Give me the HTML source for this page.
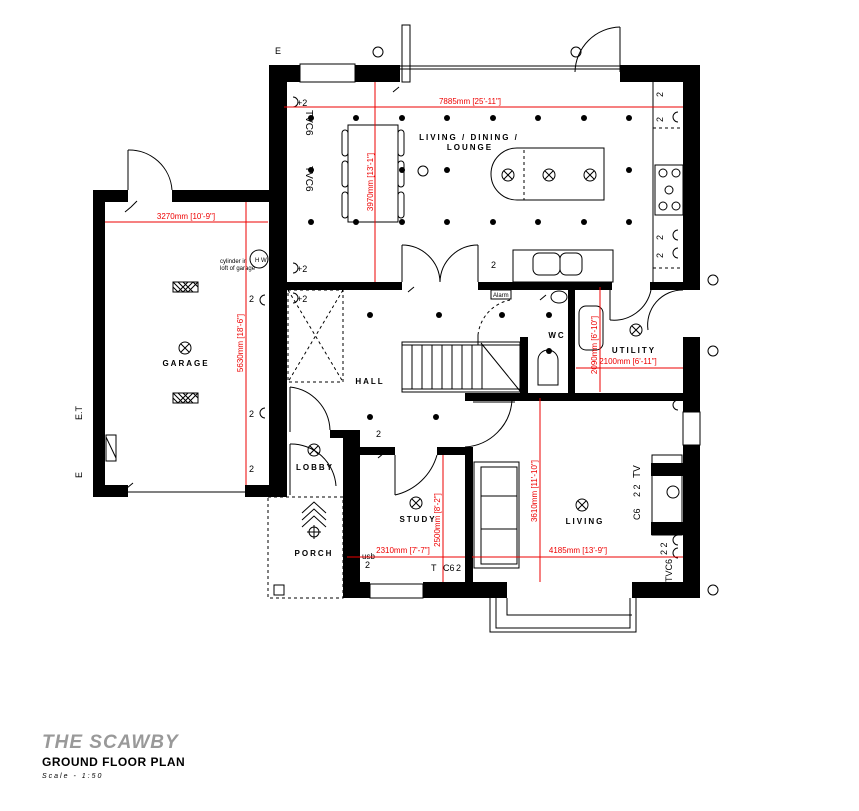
<!DOCTYPE html>
<html><head><meta charset="utf-8"><style>
html,body{margin:0;padding:0;background:#fff;}
svg{display:block;font-family:"Liberation Sans",sans-serif;}
</style></head><body>
<svg width="859" height="811" viewBox="0 0 859 811" xmlns="http://www.w3.org/2000/svg">
<g fill="none" stroke="#000" stroke-width="1">
 <line x1="400" y1="66" x2="620" y2="66"/><line x1="400" y1="69" x2="620" y2="69"/>
 <rect x="402" y="25" width="8" height="57"/>
 <path d="M620 27 A46 46 0 0 0 575 72"/><line x1="620" y1="27" x2="620" y2="72"/>
 <path d="M128 150 A43 43 0 0 1 172 190"/><line x1="128" y1="150" x2="128" y2="190"/>
 <line x1="128" y1="492" x2="245" y2="492"/>
 <line x1="653" y1="82" x2="653" y2="282"/>
 <line x1="653" y1="128" x2="683" y2="128" stroke-dasharray="3,3"/>
 <line x1="653" y1="268" x2="683" y2="268" stroke-dasharray="3,3"/>
 <rect x="655" y="165" width="28" height="50"/>
 <circle cx="663" cy="173" r="4"/><circle cx="676" cy="173" r="4"/><circle cx="669" cy="190" r="4"/><circle cx="663" cy="206" r="4"/><circle cx="676" cy="206" r="4"/>
 <path d="M517 148 H604 V200 H517 A26 26 0 0 1 517 148 Z"/>
 <line x1="524" y1="150" x2="524" y2="200" stroke-dasharray="3,3"/>
 <rect x="348" y="125" width="50" height="97"/>
 <g><rect x="342" y="130" width="6" height="26" rx="3"/><rect x="342" y="161" width="6" height="26" rx="3"/><rect x="342" y="192" width="6" height="26" rx="3"/>
 <rect x="398" y="130" width="6" height="26" rx="3"/><rect x="398" y="161" width="6" height="26" rx="3"/><rect x="398" y="192" width="6" height="26" rx="3"/></g>
 <line x1="402" y1="245" x2="402" y2="282"/><line x1="478" y1="245" x2="478" y2="282"/>
 <path d="M402 245 A38 38 0 0 1 440 282"/><path d="M478 245 A38 38 0 0 0 440 282"/>
 <rect x="513" y="250" width="100" height="32"/>
 <rect x="533" y="253" width="27" height="22" rx="6"/><rect x="560" y="253" width="22" height="22" rx="6"/>
 <rect x="402" y="342" width="118" height="50"/>
 <line x1="402" y1="345" x2="520" y2="345"/><line x1="402" y1="389" x2="520" y2="389"/>
 <g><line x1="412" y1="345" x2="412" y2="389"/><line x1="422" y1="345" x2="422" y2="389"/><line x1="432" y1="345" x2="432" y2="389"/><line x1="442" y1="345" x2="442" y2="389"/><line x1="452" y1="345" x2="452" y2="389"/><line x1="462" y1="345" x2="462" y2="389"/><line x1="472" y1="345" x2="472" y2="389"/><line x1="482" y1="345" x2="482" y2="389"/></g>
 <line x1="481" y1="343" x2="520" y2="391"/>
 <rect x="288" y="290" width="55" height="92" stroke-dasharray="3,3"/>
 <line x1="288" y1="290" x2="343" y2="382" stroke-dasharray="3,3"/><line x1="343" y1="290" x2="288" y2="382" stroke-dasharray="3,3"/>
 <path d="M290 387 A45 45 0 0 1 330 430"/><line x1="290" y1="387" x2="290" y2="432"/>
 <path d="M290 444 A45 45 0 0 1 336 486"/><line x1="290" y1="444" x2="290" y2="495"/>
 <path d="M395 495 A57 57 0 0 0 437 455"/><line x1="395" y1="455" x2="395" y2="495"/>
 <path d="M512 400 A50 50 0 0 1 465 447"/><line x1="473" y1="402" x2="515" y2="402"/>
 <path d="M478 335 A40 40 0 0 1 510 300" stroke-dasharray="3,3"/><line x1="478" y1="335" x2="478" y2="345"/>
 <path d="M610 320 A38 38 0 0 0 651 290"/><line x1="610" y1="288" x2="610" y2="320"/>
 <path d="M683 290 A35 35 0 0 0 648 330"/>
 <path d="M538 360 A10 10 0 0 1 558 360 V385 H538 Z"/>
 <ellipse cx="559" cy="297" rx="8" ry="6"/>
 <rect x="579" y="306" width="24" height="44" rx="7"/>
 <rect x="474" y="462" width="45" height="106"/>
 <rect x="481" y="467" width="36" height="97"/>
 <line x1="481" y1="496" x2="517" y2="496"/><line x1="481" y1="529" x2="517" y2="529"/>
 <rect x="652" y="455" width="30" height="80"/>
 <circle cx="673" cy="492" r="6"/>
 <path d="M490 598 V632 H636 V598"/><path d="M496 598 V628 H630 V598"/><path d="M507 598 V615 H632"/>
 <rect x="300" y="64" width="55" height="18"/>
 <rect x="370" y="584" width="53" height="14"/>
 <rect x="683" y="412" width="17" height="33"/>
 <rect x="268" y="497" width="75" height="101" stroke-dasharray="3,3"/>
 <rect x="274" y="585" width="10" height="10"/>
 <path d="M302 513 L314 502 L326 513 M302 520 L314 509 L326 520 M302 527 L314 516 L326 527"/>
 <circle cx="314" cy="532" r="5"/><line x1="314" y1="525" x2="314" y2="539"/><line x1="307" y1="532" x2="321" y2="532"/>
 <rect x="173" y="282" width="25" height="10"/><rect x="173" y="393" width="25" height="10"/>
 <path d="M173 282 L183 292 L193 282 L198 287 M178 282 L188 292 L198 282 M173 287 L178 292 L188 282 M183 282 L193 292"/>
 <path d="M173 393 L183 403 L193 393 L198 398 M178 393 L188 403 L198 393 M173 398 L178 403 L188 393 M183 393 L193 403"/>
 <rect x="106" y="435" width="10" height="26"/><line x1="106" y1="437" x2="116" y2="458"/>
 <circle cx="259" cy="259" r="9"/>
</g>
<g fill="none" stroke="#000" stroke-width="1">
 <g id="lx">
 <circle cx="508" cy="175" r="6"/><circle cx="549" cy="175" r="6"/><circle cx="590" cy="175" r="6"/>
 <circle cx="185" cy="348" r="6"/><circle cx="314" cy="450" r="6"/><circle cx="416" cy="503" r="6"/><circle cx="582" cy="505" r="6"/><circle cx="636" cy="330" r="6"/>
 </g>
 <path d="M504 171 l8 8 m0 -8 l-8 8 M545 171 l8 8 m0 -8 l-8 8 M586 171 l8 8 m0 -8 l-8 8 M181 344 l8 8 m0 -8 l-8 8 M310 446 l8 8 m0 -8 l-8 8 M412 499 l8 8 m0 -8 l-8 8 M578 501 l8 8 m0 -8 l-8 8 M632 326 l8 8 m0 -8 l-8 8"/>
 <circle cx="423" cy="171" r="5"/>
 <!-- switches -->
 <path d="M125 212 l6 -5 m0 0 l6 -6 M127 488 l6 -5 M393 92 l6 -5 M408 292 l6 -5 M378 458 l6 -5 M540 300 l6 -5"/>
</g>
<g fill="#000">
 <rect x="273" y="65" width="27" height="17"/><rect x="355" y="65" width="45" height="17"/>
 <rect x="620" y="65" width="80" height="17"/>
 <rect x="683" y="65" width="17" height="225"/>
 <rect x="269" y="65" width="18" height="432"/>
 <rect x="287" y="282" width="115" height="8"/><rect x="478" y="282" width="134" height="8"/><rect x="650" y="282" width="50" height="8"/>
 <rect x="683" y="337" width="17" height="75"/><rect x="683" y="445" width="17" height="153"/>
 <rect x="568" y="288" width="7" height="107"/><rect x="520" y="337" width="8" height="58"/>
 <rect x="465" y="393" width="235" height="8"/>
 <rect x="465" y="447" width="8" height="151"/><rect x="437" y="447" width="36" height="8"/>
 <rect x="360" y="447" width="35" height="8"/><rect x="330" y="430" width="30" height="8"/>
 <rect x="343" y="430" width="17" height="168"/>
 <rect x="343" y="582" width="27" height="16"/><rect x="423" y="582" width="84" height="16"/><rect x="632" y="582" width="68" height="16"/>
 <rect x="93" y="190" width="35" height="12"/><rect x="172" y="190" width="97" height="12"/>
 <rect x="93" y="190" width="12" height="307"/>
 <rect x="93" y="485" width="35" height="12"/><rect x="245" y="485" width="42" height="12"/>
 <rect x="651" y="463" width="32" height="13"/><rect x="651" y="522" width="32" height="13"/>
</g>
<g fill="#000">
 <circle cx="311" cy="118" r="3"/><circle cx="356" cy="118" r="3"/><circle cx="402" cy="118" r="3"/><circle cx="447" cy="118" r="3"/><circle cx="493" cy="118" r="3"/><circle cx="538" cy="118" r="3"/><circle cx="584" cy="118" r="3"/><circle cx="629" cy="118" r="3"/>
 <circle cx="311" cy="170" r="3"/><circle cx="402" cy="170" r="3"/><circle cx="447" cy="170" r="3"/><circle cx="629" cy="170" r="3"/>
 <circle cx="311" cy="222" r="3"/><circle cx="356" cy="222" r="3"/><circle cx="402" cy="222" r="3"/><circle cx="447" cy="222" r="3"/><circle cx="493" cy="222" r="3"/><circle cx="538" cy="222" r="3"/><circle cx="584" cy="222" r="3"/><circle cx="629" cy="222" r="3"/>
 <circle cx="370" cy="315" r="3"/><circle cx="439" cy="315" r="3"/><circle cx="502" cy="315" r="3"/><circle cx="549" cy="315" r="3"/><circle cx="549" cy="351" r="3"/><circle cx="370" cy="417" r="3"/><circle cx="436" cy="417" r="3"/>
</g>
<g fill="none" stroke="#000" stroke-width="1">
 <circle cx="378" cy="52" r="5"/><circle cx="576" cy="52" r="5"/><circle cx="713" cy="280" r="5"/><circle cx="713" cy="590" r="5"/><circle cx="713" cy="351" r="5"/>
 <path d="M293 97 a5 5 0 0 1 0 10"/><path d="M293 263 a5 5 0 0 1 0 10"/><path d="M293 293 a5 5 0 0 1 0 10"/><path d="M265 408 a5 5 0 0 0 0 10"/><path d="M265 295 a5 5 0 0 0 0 10"/>
 <path d="M678 112 a5 5 0 0 0 0 10"/><path d="M678 230 a5 5 0 0 0 0 10"/><path d="M678 248 a5 5 0 0 0 0 10"/><path d="M678 400 a5 5 0 0 0 0 10"/>
 <path d="M678 535 a5 5 0 0 0 0 10"/><path d="M678 548 a5 5 0 0 0 0 10"/>
</g>
<g font-size="9" fill="#000">
 <text x="297" y="106">+2</text><text x="297" y="272">+2</text><text x="297" y="302">+2</text>
 <text x="249" y="302">2</text><text x="249" y="417">2</text><text x="249" y="472">2</text>
 <text x="491" y="268">2</text><text x="376" y="437">2</text><text x="365" y="568">2</text><text x="456" y="571">2</text>
 <text x="431" y="571">T</text><text x="443" y="571">C6</text><text x="362" y="559" font-size="8">usb</text>
 <text transform="translate(306,110) rotate(90)" font-size="10">TVC6</text>
 <text transform="translate(306,166) rotate(90)" font-size="10">TVC6</text>
 <text transform="translate(663,122) rotate(-90)">2</text><text transform="translate(663,240) rotate(-90)">2</text><text transform="translate(663,258) rotate(-90)">2</text><text transform="translate(663,97) rotate(-90)">2</text>
 <text transform="translate(690,118) rotate(90)" font-size="9">E.T</text>
 <text transform="translate(82,420) rotate(-90)" font-size="9">E.T</text>
 <text transform="translate(82,478) rotate(-90)" font-size="9">E</text>
 <text x="275" y="54" font-size="9">E</text>
 <text transform="translate(640,478) rotate(-90)" font-size="10">TV</text>
 <text transform="translate(640,497) rotate(-90)">2 2</text>
 <text transform="translate(640,520) rotate(-90)">C6</text>
 <text transform="translate(667,555) rotate(-90)">2 2</text>
 <text transform="translate(672,582) rotate(-90)">TVC6</text>
 <rect x="491" y="290" width="20" height="9" fill="none" stroke="#000"/>
 <text x="493" y="297" font-size="6">Alarm</text>
 <text x="220" y="263" font-size="6">cylinder in</text><text x="220" y="270" font-size="6">loft of garage</text>
 <text x="255" y="262" font-size="6">H W</text>
</g>
<g font-size="8" font-weight="bold" letter-spacing="2" text-anchor="middle" fill="#000">
 <text x="469" y="140">LIVING / DINING /</text><text x="470" y="150">LOUNGE</text>
 <text x="186" y="366">GARAGE</text><text x="370" y="384">HALL</text><text x="315" y="470">LOBBY</text>
 <text x="418" y="522">STUDY</text><text x="314" y="556">PORCH</text><text x="585" y="524">LIVING</text>
 <text x="557" y="338">WC</text><text x="634" y="353">UTILITY</text>
</g>
<g stroke="#e00" stroke-width="1" fill="none">
 <line x1="284" y1="107" x2="683" y2="107"/><line x1="375" y1="82" x2="375" y2="282"/>
 <line x1="105" y1="222" x2="268" y2="222"/><line x1="246" y1="202" x2="246" y2="485"/>
 <line x1="576" y1="368" x2="683" y2="368"/><line x1="600" y1="287" x2="600" y2="392"/>
 <line x1="540" y1="398" x2="540" y2="582"/><line x1="443" y1="455" x2="443" y2="582"/>
 <line x1="347" y1="557" x2="465" y2="557"/><line x1="472" y1="557" x2="683" y2="557"/>
</g>
<g fill="#e00" font-size="8" text-anchor="middle">
 <text x="470" y="104">7885mm [25'-11"]</text>
 <text transform="translate(373,182) rotate(-90)">3970mm [13'-1"]</text>
 <text x="186" y="219">3270mm [10'-9"]</text>
 <text transform="translate(243,343) rotate(-90)">5630mm [18'-6"]</text>
 <text x="628" y="364">2100mm [6'-11"]</text>
 <text transform="translate(597,345) rotate(-90)">2090mm [6'-10"]</text>
 <text transform="translate(537,491) rotate(-90)">3610mm [11'-10"]</text>
 <text transform="translate(440,520) rotate(-90)">2500mm [8'-2"]</text>
 <text x="403" y="553">2310mm [7'-7"]</text>
 <text x="578" y="553">4185mm [13'-9"]</text>
</g>
<text x="42" y="748" font-size="19" font-style="italic" font-weight="bold" fill="#999" letter-spacing="1">THE SCAWBY</text>
<text x="42" y="766" font-size="12" font-weight="bold" fill="#000" letter-spacing="0.5">GROUND FLOOR PLAN</text>
<text x="42" y="778" font-size="7" font-style="italic" fill="#000" letter-spacing="2">Scale - 1:50</text>
</svg>
</body></html>
